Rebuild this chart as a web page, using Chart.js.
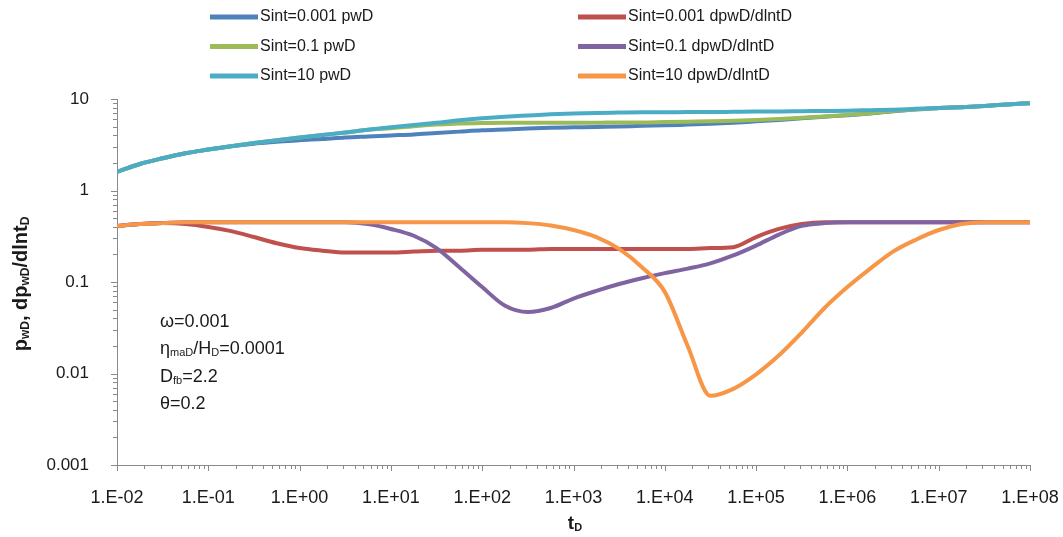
<!DOCTYPE html>
<html>
<head>
<meta charset="utf-8">
<title>pwD type curves</title>
<script src="https://cdn.jsdelivr.net/npm/chart.js@4.4.1/dist/chart.umd.min.js"></script>
<style>
  body { margin: 0; background: #fff; }
  #wrap { width: 1063px; height: 537px; }
</style>
</head>
<body>
<div id="wrap"><canvas id="chart" width="1063" height="537"></canvas></div>
<script>
// dimensionless time, quarter decades from 1e-2 to 1e8
const tD = [
  1e-2, 1.78e-2, 3.16e-2, 5.62e-2, 1e-1, 1.78e-1, 3.16e-1, 5.62e-1,
  1, 1.78, 3.16, 5.62, 10, 17.8, 31.6, 56.2,
  100, 178, 316, 562, 1e3, 1.78e3, 3.16e3, 5.62e3,
  1e4, 1.78e4, 3.16e4, 5.62e4, 1e5, 1.78e5, 3.16e5, 5.62e5,
  1e6, 1.78e6, 3.16e6, 5.62e6, 1e7, 1.78e7, 3.16e7, 5.62e7, 1e8
];

// pressure pwD
const pwdS0001 = [
  1.6, 1.95, 2.25, 2.55, 2.8, 3.05, 3.25, 3.4,
  3.55, 3.65, 3.8, 3.9, 4.0, 4.1, 4.25, 4.4,
  4.55, 4.65, 4.75, 4.85, 4.9, 4.95, 5.0, 5.1,
  5.15, 5.25, 5.35, 5.5, 5.7, 5.9, 6.15, 6.4,
  6.65, 6.95, 7.35, 7.7, 7.95, 8.15, 8.4, 8.7, 9.0
];
const pwdS01 = [
  1.6, 1.95, 2.25, 2.55, 2.8, 3.05, 3.3, 3.55,
  3.8, 4.05, 4.3, 4.6, 4.8, 5.05, 5.25, 5.4,
  5.45, 5.5, 5.5, 5.5, 5.5, 5.5, 5.55, 5.55,
  5.6, 5.65, 5.7, 5.8, 5.9, 6.05, 6.25, 6.45,
  6.7, 7.0, 7.4, 7.75, 7.95, 8.15, 8.4, 8.7, 9.0
];
const pwdS10 = [
  1.6, 1.95, 2.25, 2.55, 2.8, 3.05, 3.3, 3.55,
  3.8, 4.05, 4.3, 4.6, 4.9, 5.2, 5.5, 5.85,
  6.15, 6.4, 6.6, 6.8, 6.95, 7.05, 7.1, 7.15,
  7.15, 7.2, 7.2, 7.25, 7.3, 7.3, 7.35, 7.4,
  7.45, 7.55, 7.65, 7.8, 7.95, 8.15, 8.4, 8.7, 9.0
];

// derivative dpwD/dlntD
const derS0001 = [
  0.41, 0.43, 0.44, 0.43, 0.40, 0.36, 0.31, 0.265,
  0.235, 0.22, 0.21, 0.21, 0.21, 0.215, 0.22, 0.22,
  0.225, 0.225, 0.225, 0.23, 0.23, 0.23, 0.23, 0.23,
  0.23, 0.23, 0.235, 0.24, 0.31, 0.38, 0.43, 0.45,
  0.45, 0.45, 0.45, 0.45, 0.45, 0.45, 0.45, 0.45, 0.45
];
const derS01 = [
  0.41, 0.43, 0.44, 0.45, 0.45, 0.45, 0.45, 0.45,
  0.45, 0.45, 0.45, 0.43, 0.38, 0.32, 0.235, 0.145,
  0.088, 0.055, 0.047, 0.052, 0.066, 0.08, 0.095, 0.11,
  0.125, 0.14, 0.16, 0.195, 0.25, 0.33, 0.41, 0.44,
  0.45, 0.45, 0.45, 0.45, 0.45, 0.45, 0.45, 0.45, 0.45
];
const derS10 = [
  0.41, 0.43, 0.44, 0.45, 0.45, 0.45, 0.45, 0.45,
  0.45, 0.45, 0.45, 0.45, 0.45, 0.45, 0.45, 0.45,
  0.45, 0.45, 0.44, 0.415, 0.37, 0.31, 0.23, 0.145,
  0.078, 0.02, 0.0057, 0.0068, 0.0098, 0.0158, 0.028, 0.052,
  0.088, 0.14, 0.215, 0.29, 0.37, 0.43, 0.45, 0.45, 0.45
];

const seriesLabels = [
  'Sint=0.001 pwD', 'Sint=0.1 pwD', 'Sint=10 pwD',
  'Sint=0.001 dpwD/dlntD', 'Sint=0.1 dpwD/dlntD', 'Sint=10 dpwD/dlntD'
];
const seriesValues = [pwdS0001, pwdS01, pwdS10, derS0001, derS01, derS10];
const seriesColors = ['#4f81bd', '#9bbb59', '#4bacc6', '#c0504d', '#8064a2', '#f79646'];

const FONT = "'Liberation Sans', Arial, sans-serif";
const TEXT = '#1a1a1a';
const AXIS = '#8a8a8a';

function isDecade(v) {
  const l = Math.log10(v);
  return Math.abs(l - Math.round(l)) < 1e-6;
}

// 1..9 x 10^k ticks, labels only on the decades
function logTicks(lo, hi) {
  const out = [];
  for (let e = lo; e <= hi; e++) {
    for (let d = 1; d <= 9; d++) {
      if (e === hi && d > 1) break;
      out.push({ value: Number((d * Math.pow(10, e)).toPrecision(3)) });
    }
  }
  return out;
}

function sciLabel(v) {
  const e = Math.round(Math.log10(v));
  return '1.E' + (e < 0 ? '-' : '+') + String(Math.abs(e)).padStart(2, '0');
}

// draws text with subscript pieces: parts = [[text, isSub], ...]
function richWidth(ctx, parts, size, sub, weight) {
  let w = 0;
  parts.forEach(([t, s]) => {
    ctx.font = `${weight} ${s ? sub : size}px ${FONT}`;
    w += ctx.measureText(t).width;
  });
  return w;
}
function drawRich(ctx, parts, x, y, size, sub, weight) {
  let cx = x;
  parts.forEach(([t, s]) => {
    ctx.font = `${weight} ${s ? sub : size}px ${FONT}`;
    ctx.fillText(t, cx, s ? y + 2 : y);
    cx += ctx.measureText(t).width;
  });
}

const decorations = {
  id: 'decorations',
  afterDraw(chart) {
    const { ctx, chartArea: a, scales: { x, y } } = chart;
    ctx.save();

    // tick marks
    ctx.strokeStyle = AXIS;
    ctx.lineWidth = 1;
    x.ticks.forEach(t => {
      const px = Math.round(x.getPixelForValue(t.value)) + 0.5;
      ctx.beginPath();
      ctx.moveTo(px, a.bottom);
      ctx.lineTo(px, a.bottom + (isDecade(t.value) ? 6 : 4));
      ctx.stroke();
    });
    y.ticks.forEach(t => {
      const py = Math.round(y.getPixelForValue(t.value)) + 0.5;
      ctx.beginPath();
      ctx.moveTo(a.left, py);
      ctx.lineTo(a.left - (isDecade(t.value) ? 6 : 4), py);
      ctx.stroke();
    });

    // legend, two columns
    ctx.textBaseline = 'middle';
    ctx.fillStyle = TEXT;
    chart.data.datasets.forEach((ds, i) => {
      const col = i < 3 ? 0 : 1;
      const row = i % 3;
      const lx = col === 0 ? 210 : 578;
      const ly = 17 + row * 29.5;
      ctx.strokeStyle = ds.borderColor;
      ctx.lineWidth = 5;
      ctx.beginPath();
      ctx.moveTo(lx, ly);
      ctx.lineTo(lx + 48, ly);
      ctx.stroke();
      ctx.font = `16px ${FONT}`;
      ctx.fillText(ds.label, lx + 50, ly);
    });

    // axis titles
    ctx.textBaseline = 'alphabetic';
    const yTitle = [['p', 0], ['wD', 1], [', dp', 0], ['wD', 1], ['/dlnt', 0], ['D', 1]];
    ctx.save();
    ctx.translate(27, 284);
    ctx.rotate(-Math.PI / 2);
    const yw = richWidth(ctx, yTitle, 20, 12, 'bold');
    drawRich(ctx, yTitle, -yw / 2, 0, 20, 12, 'bold');
    ctx.restore();

    const xTitle = [['t', 0], ['D', 1]];
    const xw = richWidth(ctx, xTitle, 19, 11, 'bold');
    drawRich(ctx, xTitle, 575 - xw / 2, 529, 19, 11, 'bold');

    // model parameters
    const notes = [
      [['ω=0.001', 0]],
      [['η', 0], ['maD', 1], ['/H', 0], ['D', 1], ['=0.0001', 0]],
      [['D', 0], ['fb', 1], ['=2.2', 0]],
      [['θ=0.2', 0]]
    ];
    notes.forEach((parts, i) => drawRich(ctx, parts, 160, 327 + i * 27.3, 18, 11, 'normal'));

    ctx.restore();
  }
};

const datasets = seriesLabels.map((label, i) => ({
  label,
  data: tD.map((t, j) => ({ x: t, y: seriesValues[i][j] })),
  borderColor: seriesColors[i],
  backgroundColor: seriesColors[i],
  borderWidth: 4,
  pointRadius: 0,
  fill: false,
  cubicInterpolationMode: 'monotone',
  order: 6 - i
}));

new Chart(document.getElementById('chart'), {
  type: 'line',
  data: { datasets },
  options: {
    responsive: false,
    animation: false,
    layout: { padding: { top: 99, right: 33, left: 0, bottom: 0 } },
    plugins: { legend: { display: false }, tooltip: { enabled: false } },
    scales: {
      x: {
        type: 'logarithmic',
        min: 0.01,
        max: 1e8,
        afterBuildTicks: s => { s.ticks = logTicks(-2, 8); },
        afterFit: s => { s.height = 72; s.paddingLeft = 0; s.paddingRight = 0; },
        grid: { display: false },
        border: { display: true, color: AXIS, width: 1 },
        ticks: {
          autoSkip: false,
          maxRotation: 0,
          padding: 14,
          color: TEXT,
          font: { family: FONT, size: 18 },
          callback: v => (isDecade(v) ? sciLabel(v) : '')
        }
      },
      y: {
        type: 'logarithmic',
        min: 0.001,
        max: 10,
        afterBuildTicks: s => { s.ticks = logTicks(-3, 1); },
        afterFit: s => { s.width = 117; s.paddingTop = 0; s.paddingBottom = 0; },
        grid: { display: false },
        border: { display: true, color: AXIS, width: 1 },
        ticks: {
          autoSkip: false,
          padding: 20,
          color: TEXT,
          font: { family: FONT, size: 17 },
          callback: v => (isDecade(v) ? String(v) : '')
        }
      }
    }
  },
  plugins: [decorations]
});
</script>
</body>
</html>
